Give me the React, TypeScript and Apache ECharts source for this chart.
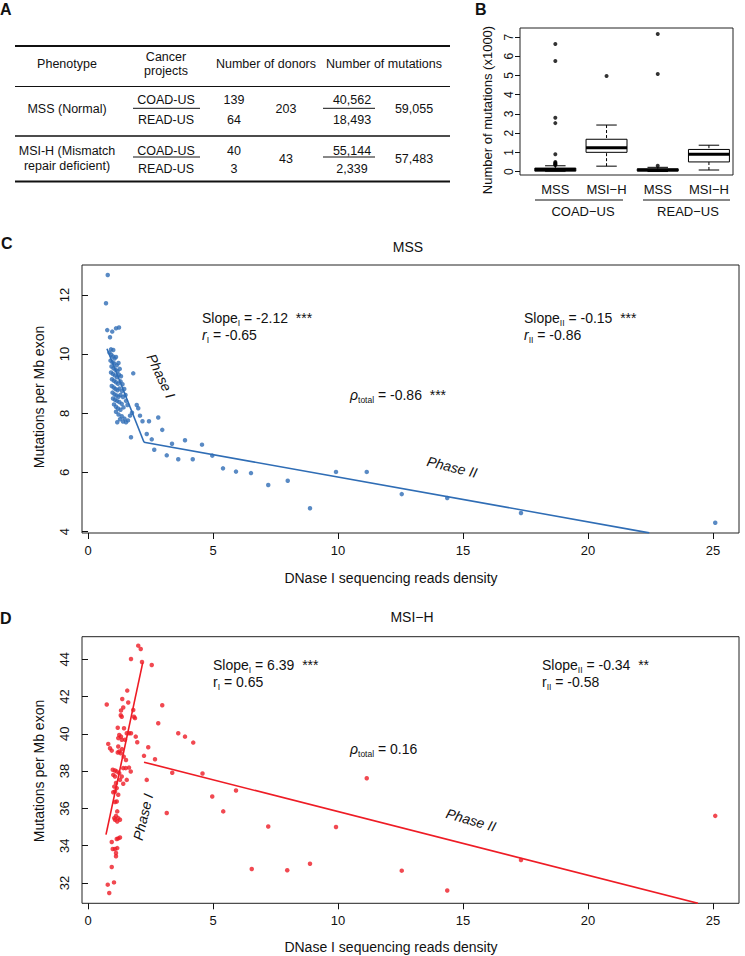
import React, { useEffect, useRef } from 'react';
import * as echarts from 'echarts';

const FONT = '"Liberation Sans", Arial, Helvetica, sans-serif';
const BLUE = '#2f6db5';
const RED = '#ee1c25';

// ---------- Panel A table ----------
const tableHeader = ['Phenotype', 'Cancer\nprojects', 'Number of donors', 'Number of mutations'];
const phenotypes = ['MSS (Normal)', 'MSI-H (Mismatch\nrepair deficient)'];
const projects = ['COAD-US', 'READ-US'];
const donors = [['139', '64'], ['40', '3']];
const donorTotals = ['203', '43'];
const mutations = [['40,562', '18,493'], ['55,144', '2,339']];
const mutationTotals = ['59,055', '57,483'];

// ---------- Panel B boxplot ----------
const boxCategories = ['MSS', 'MSI\u2212H', 'MSS', 'MSI\u2212H'];
const boxGroups = ['COAD\u2212US', 'READ\u2212US'];
// [position, min, q1, median, q3, max]
const boxStats = [
  [1, 0.0, 0.02, 0.1, 0.18, 0.3],
  [2, 0.28, 1.0, 1.24, 1.68, 2.42],
  [3, 0.0, 0.03, 0.08, 0.14, 0.22],
  [4, 0.08, 0.5, 0.9, 1.15, 1.37],
];
const boxOutliers = [
  [1, 6.64], [1, 5.75], [1, 2.8], [1, 2.52], [1, 0.9], [1, 0.5], [1, 0.45], [1, 0.41], [1, 0.37], [1, 0.34],
  [2, 4.97],
  [3, 7.16], [3, 5.08], [3, 0.3],
];
const boxYTicks = [0, 1, 2, 3, 4, 5, 6, 7];

// ---------- Panel C (MSS) ----------
const xTicks = [0, 5, 10, 15, 20, 25];
const mssYTicks = [4, 6, 8, 10, 12];
const mssPoints = [
  [0.79, 12.67], [0.72, 11.72], [0.77, 10.81], [0.97, 10.76], [1.12, 10.87], [1.24, 10.9], [0.88, 10.57],
  [0.92, 10.16], [1.01, 10.14], [1.81, 9.35], [1.17, 7.7], [1.72, 7.19], [1.95, 8.28], [2.01, 8.17],
  [2.08, 7.92], [2.18, 7.73], [2.35, 7.3], [2.44, 7.73], [2.55, 7.12], [2.65, 6.77], [2.81, 7.86],
  [2.97, 7.44], [3.15, 6.58], [3.36, 6.97], [3.61, 6.45], [3.88, 7.09], [4.19, 6.45], [4.56, 6.94],
  [4.97, 6.57], [5.4, 6.14], [5.92, 6.03], [6.52, 5.98], [7.21, 5.58], [7.99, 5.72], [8.88, 4.79],
  [9.92, 6.02], [11.15, 6.02], [12.55, 5.27], [14.37, 5.14], [17.32, 4.63], [25.09, 4.3],
  [0.86, 10.05], [0.93, 9.98], [1.0, 9.92], [1.06, 9.85], [1.12, 9.9], [0.9, 9.78], [0.98, 9.72],
  [1.05, 9.68], [1.15, 9.62], [1.22, 9.7], [0.94, 9.58], [1.02, 9.52], [1.1, 9.47], [1.18, 9.42],
  [1.27, 9.5], [0.92, 9.38], [1.0, 9.33], [1.08, 9.28], [1.16, 9.22], [1.24, 9.3], [1.32, 9.25],
  [0.96, 9.15], [1.04, 9.1], [1.12, 9.05], [1.2, 9.0], [1.3, 9.08], [1.38, 8.98], [0.95, 8.92],
  [1.03, 8.87], [1.1, 8.82], [1.18, 8.78], [1.26, 8.84], [1.36, 8.75], [1.45, 8.82], [0.98, 8.7],
  [1.06, 8.64], [1.14, 8.6], [1.22, 8.56], [1.3, 8.62], [1.4, 8.55], [1.5, 8.62], [1.0, 8.5],
  [1.08, 8.46], [1.16, 8.42], [1.25, 8.38], [1.35, 8.32], [1.52, 8.42], [1.04, 8.3], [1.12, 8.22],
  [1.2, 8.16], [1.3, 8.12], [1.42, 8.2], [1.58, 8.28], [1.12, 8.05], [1.22, 7.96], [1.35, 7.9],
  [1.46, 7.82], [1.6, 7.76], [1.28, 7.8], [1.52, 7.7], [1.4, 7.72], [1.68, 7.92], [1.76, 8.02],
];
const mssPhase1 = [[0.76, 10.18], [2.24, 7.02]];
const mssPhase2 = [[2.24, 7.02], [22.45, 3.96]];

// ---------- Panel D (MSI-H) ----------
const msiYTicks = [32, 34, 36, 38, 40, 42, 44];
const msiPoints = [
  [2.01, 44.73], [2.11, 44.55], [1.72, 44.01], [2.16, 43.85], [2.55, 43.69],
  [0.75, 41.57], [1.57, 42.32], [1.37, 41.87], [1.61, 41.68], [1.41, 41.41], [1.32, 41.25], [1.35, 40.92],
  [1.31, 41.0], [1.81, 41.28], [1.84, 40.92], [1.88, 40.84], [2.97, 41.53], [2.81, 40.57],
  [1.19, 40.33], [1.44, 40.3], [1.25, 39.94], [1.32, 39.85], [1.21, 39.77], [1.35, 39.68], [1.55, 40.03],
  [1.64, 40.03], [1.72, 40.03], [1.48, 39.68], [1.91, 39.85], [1.97, 39.55], [3.61, 40.03], [3.88, 39.85],
  [4.21, 39.53], [0.81, 39.46], [0.88, 39.23], [0.95, 39.1], [1.21, 39.32], [1.25, 39.05], [1.31, 38.96],
  [1.19, 39.0], [1.36, 39.18], [1.43, 38.78], [1.52, 38.6], [2.41, 39.28], [2.24, 38.82], [2.68, 38.64],
  [0.99, 38.07], [1.08, 38.03], [1.15, 37.98], [1.25, 37.89], [1.01, 37.8], [1.08, 37.71], [1.41, 38.16],
  [1.51, 38.16], [1.64, 38.19], [1.71, 37.98], [1.35, 37.71], [1.28, 37.53], [1.41, 37.32], [1.55, 37.53],
  [1.12, 37.36], [1.05, 37.17], [1.15, 37.09], [1.01, 36.87], [1.08, 36.91], [2.35, 37.53], [3.37, 37.91],
  [4.58, 37.87], [1.21, 36.73], [1.15, 36.37], [1.08, 36.34], [3.15, 35.75],
  [1.17, 35.84], [1.12, 35.6], [1.21, 35.48], [1.08, 35.39], [1.17, 35.3], [1.28, 35.39], [1.05, 35.48],
  [1.15, 34.36], [1.21, 34.39], [1.28, 34.44], [0.95, 34.2],
  [0.99, 33.82], [1.08, 33.82], [1.17, 33.87], [1.12, 33.61], [1.12, 33.43],
  [0.95, 32.86], [1.04, 32.03], [0.79, 31.91], [0.85, 31.46],
  [4.97, 36.64], [5.92, 36.96], [5.41, 35.84], [7.21, 35.03], [6.55, 32.75], [7.97, 32.68], [8.88, 33.03],
  [9.92, 35.0], [11.15, 37.62], [12.55, 32.66], [14.37, 31.6], [17.32, 33.23], [25.09, 35.6],
];
const msiPhase1 = [[0.72, 34.59], [2.19, 43.82]];
const msiPhase2 = [[2.24, 38.48], [24.4, 30.91]];

// statistics texts
const mssStats = { slope1: '-2.12', r1: '-0.65', slope2: '-0.15', r2: '-0.86', rho: '-0.86', sig1: '***', sig2: '***', sigRho: '***' };
const msiStats = { slope1: '6.39', r1: '0.65', slope2: '-0.34', r2: '-0.58', rho: '0.16', sig1: '***', sig2: '**', sigRho: '' };

// ---------- helpers ----------
const TXT = '#111';
function txt(x: number, y: number, text: string, o: any = {}) {
  return {
    type: 'text',
    x,
    y,
    rotation: o.rotation || 0,
    silent: true,
    z: 100,
    style: {
      text,
      fill: TXT,
      fontFamily: FONT,
      fontSize: o.fontSize || 12.5,
      fontWeight: o.fontWeight || 'normal',
      fontStyle: o.fontStyle || 'normal',
      align: o.align || 'center',
      verticalAlign: o.va || 'middle',
      lineHeight: o.lineHeight,
      rich: o.rich,
    },
  };
}
function hline(x1: number, x2: number, y: number, w: number) {
  return { type: 'line', silent: true, z: 100, shape: { x1, y1: y, x2, y2: y }, style: { stroke: '#111', lineWidth: w } };
}

const rich = {
  n: { fontSize: 14, fontFamily: FONT, fill: TXT, lineHeight: 18 },
  i: { fontSize: 14, fontFamily: FONT, fill: TXT, lineHeight: 18, fontStyle: 'italic' },
  s: { fontSize: 8.5, fontFamily: FONT, fill: TXT, lineHeight: 8, verticalAlign: 'bottom' },
  t: { fontSize: 14, fontFamily: FONT, fill: TXT, lineHeight: 18 },
};
function statText(x: number, y: number, s: string) {
  return txt(x, y, s, { align: 'left', rich });
}

function buildGraphic() {
  const g: any[] = [];
  // panel letters
  g.push(txt(0, 9, 'A', { align: 'left', fontSize: 16, fontWeight: 'bold' }));
  g.push(txt(475, 9, 'B', { align: 'left', fontSize: 16, fontWeight: 'bold' }));
  g.push(txt(1, 243, 'C', { align: 'left', fontSize: 16, fontWeight: 'bold' }));
  g.push(txt(0, 618, 'D', { align: 'left', fontSize: 16, fontWeight: 'bold' }));

  // table A
  const headX = [67, 166, 266, 384];
  tableHeader.forEach((h, i) => g.push(txt(headX[i], 64, h, { lineHeight: 14 })));
  g.push(hline(15, 450, 46, 1.8));
  g.push(hline(15, 450, 86.5, 1.2));
  g.push(hline(15, 450, 136, 1.4));
  g.push(hline(15, 450, 181.5, 1.8));
  const rowTop = [100, 150.5];
  const rowBot = [120, 168.5];
  const rowMid = [109, 158.5];
  const sepY = [108.3, 157];
  phenotypes.forEach((p, r) => {
    g.push(txt(67, rowMid[r], p, { lineHeight: 15 }));
    g.push(txt(166, rowTop[r], projects[0]));
    g.push(txt(166, rowBot[r], projects[1]));
    g.push(hline(133, 200, sepY[r], 1));
    g.push(txt(234, rowTop[r], donors[r][0]));
    g.push(txt(234, rowBot[r], donors[r][1]));
    g.push(txt(286, rowMid[r], donorTotals[r]));
    g.push(txt(352, rowTop[r], mutations[r][0]));
    g.push(txt(352, rowBot[r], mutations[r][1]));
    g.push(hline(323, 375, sepY[r], 1));
    g.push(txt(414, rowMid[r], mutationTotals[r]));
  });

  // panel B extras
  g.push(txt(487, 110, 'Number of mutations (x1000)', { fontSize: 13, rotation: Math.PI / 2 }));
  g.push(hline(535, 623, 200, 1.2));
  g.push(hline(643, 730, 200, 1.2));
  g.push(txt(583, 211, boxGroups[0], { fontSize: 13 }));
  g.push(txt(688, 211, boxGroups[1], { fontSize: 13 }));

  // panel C extras
  g.push(txt(408, 247, 'MSS', { fontSize: 14 }));
  g.push(txt(39, 397, 'Mutations per Mb exon', { fontSize: 14, rotation: Math.PI / 2 }));
  g.push(txt(391, 578, 'DNase I sequencing reads density', { fontSize: 14 }));
  g.push(txt(161, 376, 'Phase I', { fontSize: 14, fontStyle: 'italic', rotation: -1.13 }));
  g.push(txt(452, 467, 'Phase II', { fontSize: 14, fontStyle: 'italic', rotation: -0.24 }));
  g.push(statText(202, 318, `{n|Slope}{s|I}{n| = ${mssStats.slope1}  }{t|${mssStats.sig1}}`));
  g.push(statText(202, 335, `{i|r}{s|I}{n| = ${mssStats.r1}}`));
  g.push(statText(524, 318, `{n|Slope}{s|II}{n| = ${mssStats.slope2}  }{t|${mssStats.sig2}}`));
  g.push(statText(524, 335, `{i|r}{s|II}{n| = ${mssStats.r2}}`));
  g.push(statText(350, 395, `{i|\u03c1}{s|total}{n| = ${mssStats.rho}  }{t|${mssStats.sigRho}}`));

  // panel D extras
  g.push(txt(412, 617, 'MSI\u2212H', { fontSize: 14 }));
  g.push(txt(39, 771, 'Mutations per Mb exon', { fontSize: 14, rotation: Math.PI / 2 }));
  g.push(txt(391, 947, 'DNase I sequencing reads density', { fontSize: 14 }));
  g.push(txt(143, 817, 'Phase I', { fontSize: 14, fontStyle: 'italic', rotation: 1.34 }));
  g.push(txt(471, 820, 'Phase II', { fontSize: 14, fontStyle: 'italic', rotation: -0.28 }));
  g.push(statText(213, 665, `{n|Slope}{s|I}{n| = ${msiStats.slope1}  }{t|${msiStats.sig1}}`));
  g.push(statText(213, 682, `{n|r}{s|I}{n| = ${msiStats.r1}}`));
  g.push(statText(542, 665, `{n|Slope}{s|II}{n| = ${msiStats.slope2}  }{t|${msiStats.sig2}}`));
  g.push(statText(542, 682, `{n|r}{s|II}{n| = ${msiStats.r2}}`));
  g.push(statText(350, 749, `{i|\u03c1}{s|total}{n| = ${msiStats.rho}}`));
  return g;
}

function valueX(gridIndex: number, min: number, max: number, ticks: number[] | null, labels?: string[]) {
  return {
    type: 'value',
    gridIndex,
    min,
    max,
    axisLine: { show: false },
    splitLine: { show: false },
    axisTick: ticks
      ? { show: true, inside: false, length: 6, lineStyle: { color: '#111', width: 1 }, customValues: ticks }
      : { show: false },
    axisLabel: {
      show: true,
      customValues: labels ? [1, 2, 3, 4] : ticks,
      formatter: labels ? (v: number) => labels[Math.round(v) - 1] || '' : (v: number) => String(v),
      color: '#111',
      fontFamily: FONT,
      fontSize: 13,
      margin: labels ? 8 : 11,
    },
  };
}
function valueY(gridIndex: number, min: number, max: number, ticks: number[], fontSize: number, margin: number, tickLen: number) {
  return {
    type: 'value',
    gridIndex,
    min,
    max,
    axisLine: { show: false },
    splitLine: { show: false },
    axisTick: { show: true, inside: false, length: tickLen, lineStyle: { color: '#111', width: 1 }, customValues: ticks },
    axisLabel: {
      show: true,
      customValues: ticks,
      rotate: 90,
      formatter: (v: number) => String(v),
      color: '#111',
      fontFamily: FONT,
      fontSize,
      margin,
    },
  };
}

function renderBox(params: any, api: any) {
  const x = api.value(0);
  const lo = api.coord([x, api.value(1)]);
  const q1 = api.coord([x, api.value(2)]);
  const md = api.coord([x, api.value(3)]);
  const q3 = api.coord([x, api.value(4)]);
  const hi = api.coord([x, api.value(5)]);
  const half = api.size([0.4, 0])[0];
  const cap = half / 2;
  const solid = { stroke: '#000', lineWidth: 1, fill: null };
  const dashed = { stroke: '#000', lineWidth: 1, lineDash: [3, 2], fill: null };
  return {
    type: 'group',
    children: [
      { type: 'line', shape: { x1: lo[0], y1: lo[1], x2: q1[0], y2: q1[1] }, style: dashed },
      { type: 'line', shape: { x1: hi[0], y1: hi[1], x2: q3[0], y2: q3[1] }, style: dashed },
      { type: 'line', shape: { x1: lo[0] - cap, y1: lo[1], x2: lo[0] + cap, y2: lo[1] }, style: solid },
      { type: 'line', shape: { x1: hi[0] - cap, y1: hi[1], x2: hi[0] + cap, y2: hi[1] }, style: solid },
      { type: 'rect', shape: { x: q3[0] - half, y: q3[1], width: half * 2, height: q1[1] - q3[1] }, style: { fill: '#fff', stroke: '#000', lineWidth: 1 } },
      { type: 'line', shape: { x1: md[0] - half, y1: md[1], x2: md[0] + half, y2: md[1] }, style: { stroke: '#000', lineWidth: 3 } },
    ],
  };
}

function lineSeries(xi: number, data: number[][], color: string) {
  return {
    type: 'line',
    xAxisIndex: xi,
    yAxisIndex: xi,
    data,
    showSymbol: false,
    symbol: 'none',
    clip: true,
    lineStyle: { color, width: 1.6 },
    z: 3,
  };
}

export default function App() {
  const ref = useRef<HTMLDivElement>(null);
  useEffect(() => {
    const chart = echarts.init(ref.current!, null, { renderer: 'svg', width: 745, height: 956 });
    const gridStyle = { show: true, borderColor: '#222', borderWidth: 1, backgroundColor: 'transparent', containLabel: false };
    chart.setOption({
      animation: false,
      backgroundColor: '#fff',
      textStyle: { fontFamily: FONT },
      grid: [
        { ...gridStyle, left: 520, top: 28, width: 213, height: 147 },
        { ...gridStyle, left: 82, top: 265, width: 657, height: 268 },
        { ...gridStyle, left: 82, top: 636.7, width: 657, height: 266.6 },
      ],
      xAxis: [
        valueX(0, 0.31, 4.47, null, boxCategories),
        valueX(1, -0.24, 26.04, xTicks),
        valueX(2, -0.24, 26.04, xTicks),
      ],
      yAxis: [
        valueY(0, -0.18, 7.47, boxYTicks, 12, 5, 5),
        valueY(1, 3.956, 13.01, mssYTicks, 13, 11, 6),
        valueY(2, 30.91, 45.21, msiYTicks, 13, 11, 6),
      ],
      series: [
        {
          type: 'custom',
          xAxisIndex: 0,
          yAxisIndex: 0,
          renderItem: renderBox,
          encode: { x: 0, y: [1, 2, 3, 4, 5] },
          data: boxStats,
          z: 2,
        },
        {
          type: 'scatter',
          xAxisIndex: 0,
          yAxisIndex: 0,
          data: boxOutliers,
          symbolSize: 4,
          itemStyle: { color: '#000' },
          z: 3,
        },
        {
          type: 'scatter',
          xAxisIndex: 1,
          yAxisIndex: 1,
          data: mssPoints,
          symbolSize: 4.5,
          itemStyle: { color: BLUE },
          z: 2,
        },
        lineSeries(1, mssPhase1, BLUE),
        lineSeries(1, mssPhase2, BLUE),
        {
          type: 'scatter',
          xAxisIndex: 2,
          yAxisIndex: 2,
          data: msiPoints,
          symbolSize: 4.5,
          itemStyle: { color: RED },
          z: 2,
        },
        lineSeries(2, msiPhase1, RED),
        lineSeries(2, msiPhase2, RED),
      ],
      graphic: buildGraphic(),
    });
    return () => chart.dispose();
  }, []);
  return <div ref={ref} style={{ position: 'absolute', left: 0, top: 0, width: 745, height: 956, background: '#fff' }} />;
}
